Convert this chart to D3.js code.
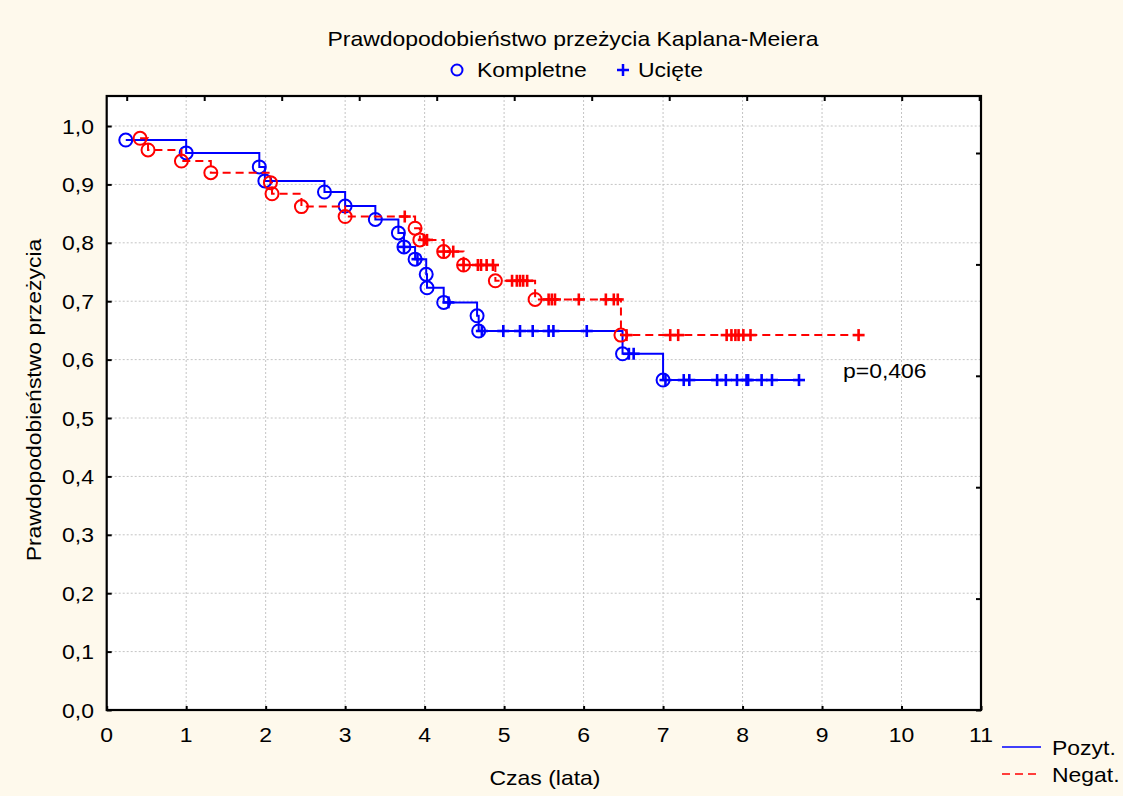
<!DOCTYPE html>
<html>
<head>
<meta charset="utf-8">
<script src="https://cdn.jsdelivr.net/npm/d3@7"></script>
<style>
  html, body { margin: 0; padding: 0; background: #fef9ec; }
  svg { display: block; font-family: "Liberation Sans", Arial, sans-serif; }
</style>
</head>
<body>
<div id="chart"></div>
<script>
// dane
var xTicks = [0, 1, 2, 3, 4, 5, 6, 7, 8, 9, 10, 11]
var yTicks = [0, 0.1, 0.2, 0.3, 0.4, 0.5, 0.6, 0.7, 0.8, 0.9, 1.0]
var yTickLabels = ["0,0", "0,1", "0,2", "0,3", "0,4", "0,5", "0,6", "0,7", "0,8", "0,9", "1,0"]

// Pozyt. - zdarzenia (czas, przezycie) i obserwacje uciete (czas)
var pozEventTimes = [0.24, 1.00, 1.92, 1.99, 2.74, 3.00, 3.38, 3.67, 3.74, 3.88, 4.02, 4.03, 4.24, 4.66, 4.68, 6.49, 7.00]
var pozEventSurv  = [0.976, 0.954, 0.930, 0.906, 0.887, 0.863, 0.840, 0.817, 0.793, 0.772, 0.746, 0.723, 0.698, 0.675, 0.649, 0.610, 0.565]
var pozCensored   = [3.74, 3.91, 4.30, 4.72, 4.99, 5.20, 5.36, 5.56, 5.62, 6.04, 6.57, 6.63,
                     7.03, 7.26, 7.33, 7.68, 7.79, 7.93, 8.05, 8.07, 8.24, 8.37, 8.71]

// Negat.
var negEventTimes = [0.42, 0.52, 0.94, 1.31, 2.06, 2.08, 2.45, 3.00, 3.88, 3.94, 4.24, 4.49, 4.89, 5.39, 6.47]
var negEventSurv  = [0.979, 0.959, 0.940, 0.920, 0.903, 0.884, 0.862, 0.845, 0.825, 0.805, 0.785, 0.762, 0.735, 0.703, 0.642]
var negCensored   = [3.75, 3.99, 4.03, 4.24, 4.36, 4.49, 4.67, 4.71, 4.78, 4.86, 5.10, 5.16, 5.20, 5.24, 5.29,
                     5.56, 5.60, 5.64, 5.94, 6.28, 6.38, 6.43, 6.54, 7.09, 7.19, 7.80, 7.86, 7.91, 7.95, 8.01, 8.10, 9.46]

var seriesNames = ["Pozyt.", "Negat."]
var seriesColors = ["#0000ff", "#ff0000"]

// wymiary
var W = 1123, H = 796
var margin = {left: 106.7, top: 96, right: 142, bottom: 86}
var width = W - margin.left - margin.right
var height = H - margin.top - margin.bottom

var x = d3.scaleLinear().domain([0, 11]).range([0, width])
var y = d3.scaleLinear().domain([0, 1.0514]).range([height, 0])

// dodatkowe podzialki na gorze i po prawej (jak w Statistice)
var xTop = d3.scaleLinear().domain([0, 11]).range([20, 872.5])
var yRight = d3.scaleLinear().domain([0, 5]).range([height, 57])

var svg = d3.select("#chart").append("svg")
    .attr("width", W)
    .attr("height", H)

svg.append("rect").attr("width", W).attr("height", H).attr("fill", "#fef9ec")

var fontSize = 20.5
var stretch = 1.12

// tekst troche rozciagniety w poziomie, tak jak w oryginale
function addText(parent, tx, ty, str, anchor, rot) {
    var g = parent.append("g")
        .attr("transform", "translate(" + tx + "," + ty + ")" + (rot ? " rotate(" + rot + ")" : "") + " scale(" + stretch + ",1)")
    g.append("text")
        .attr("text-anchor", anchor || "start")
        .style("font-size", fontSize + "px")
        .attr("fill", "#000")
        .text(str)
    return g
}

var plot = svg.append("g")
    .attr("transform", "translate(" + margin.left + "," + margin.top + ")")

plot.append("rect")
    .attr("width", width)
    .attr("height", height)
    .attr("fill", "#fff")

// siatka
plot.selectAll(".vgrid")
    .data(xTicks.slice(1, -1))
    .enter().append("line")
    .attr("class", "vgrid")
    .attr("x1", d => x(d)).attr("x2", d => x(d))
    .attr("y1", 0).attr("y2", height)
    .attr("stroke", "#c4c4c4")
    .attr("stroke-dasharray", "2,2")

plot.selectAll(".hgrid")
    .data(yTicks.slice(1))
    .enter().append("line")
    .attr("class", "hgrid")
    .attr("x1", 0).attr("x2", width)
    .attr("y1", d => y(d)).attr("y2", d => y(d))
    .attr("stroke", "#c4c4c4")
    .attr("stroke-dasharray", "2,2")

// osie
var xAxis = plot.append("g")
    .attr("transform", "translate(0," + height + ")")
    .call(d3.axisBottom(x).tickValues(xTicks).tickSizeInner(-4).tickSizeOuter(0).tickFormat(""))
var yAxis = plot.append("g")
    .call(d3.axisLeft(y).tickValues(yTicks).tickSizeInner(-5).tickSizeOuter(0).tickFormat(""))
var topAxis = plot.append("g")
    .call(d3.axisTop(xTop).tickValues(xTicks).tickSizeInner(-5).tickSizeOuter(0).tickFormat(""))
var rightAxis = plot.append("g")
    .attr("transform", "translate(" + width + ",0)")
    .call(d3.axisRight(yRight).ticks(5).tickSizeInner(-5).tickSizeOuter(0).tickFormat(""))

;[xAxis, yAxis, topAxis, rightAxis].forEach(function(a) {
    a.select(".domain").remove()
    a.selectAll(".tick line").attr("stroke", "#000").attr("stroke-width", 2)
})

plot.append("rect")
    .attr("width", width)
    .attr("height", height)
    .attr("fill", "none")
    .attr("stroke", "#000")
    .attr("stroke-width", 2.2)

// etykiety podzialek
xTicks.forEach(function(t) {
    addText(svg, margin.left + x(t), 742, String(t), "middle")
})
yTicks.forEach(function(t, i) {
    addText(svg, 94, margin.top + y(t) + 7.5, yTickLabels[i], "end")
})

// krzywe Kaplana-Meiera
var series = [
    {times: pozEventTimes, surv: pozEventSurv, cens: pozCensored, color: seriesColors[0], dash: null},
    {times: negEventTimes, surv: negEventSurv, cens: negCensored, color: seriesColors[1], dash: "8,5"}
]

function survAt(s, t) {
    var i = d3.bisectRight(s.times, t + 1e-9) - 1
    return i < 0 ? 1 : s.surv[i]
}

var stepLine = d3.line()
    .x(d => x(d[0]))
    .y(d => y(d[1]))
    .curve(d3.curveStepAfter)

series.forEach(function(s) {
    var pts = s.times.map((t, i) => [t, s.surv[i]])
    var lastT = d3.max(s.cens)
    pts.push([lastT, s.surv[s.surv.length - 1]])

    plot.append("path")
        .datum(pts)
        .attr("d", stepLine)
        .attr("fill", "none")
        .attr("stroke", s.color)
        .attr("stroke-width", 2)
        .attr("stroke-dasharray", s.dash)

    // kompletne - kolka
    plot.selectAll(null)
        .data(s.times)
        .enter().append("circle")
        .attr("cx", (d) => x(d))
        .attr("cy", (d, i) => y(s.surv[i]))
        .attr("r", 6.5)
        .attr("fill", "none")
        .attr("stroke", s.color)
        .attr("stroke-width", 2)

    // uciete - krzyzyki
    var c = plot.selectAll(null)
        .data(s.cens)
        .enter().append("g")
        .attr("transform", d => "translate(" + x(d) + "," + y(survAt(s, d)) + ")")
    c.append("line").attr("x1", -6).attr("x2", 6).attr("y1", 0).attr("y2", 0)
        .attr("stroke", s.color).attr("stroke-width", 2.6)
    c.append("line").attr("x1", 0).attr("x2", 0).attr("y1", -6).attr("y2", 6)
        .attr("stroke", s.color).attr("stroke-width", 2.6)
})

// tytul i legenda znacznikow
addText(svg, 573, 46, "Prawdopodobieństwo przeżycia Kaplana-Meiera", "middle")
svg.append("circle")
    .attr("cx", 457).attr("cy", 70).attr("r", 5.5)
    .attr("fill", "none").attr("stroke", "#0000ff").attr("stroke-width", 2)
addText(svg, 477, 77, "Kompletne", "start")
svg.append("line").attr("x1", 617).attr("x2", 629).attr("y1", 70).attr("y2", 70)
    .attr("stroke", "#0000ff").attr("stroke-width", 2.5)
svg.append("line").attr("x1", 623).attr("x2", 623).attr("y1", 64).attr("y2", 76)
    .attr("stroke", "#0000ff").attr("stroke-width", 2.5)
addText(svg, 638, 77, "Ucięte", "start")

// tytuly osi
addText(svg, 545, 785, "Czas (lata)", "middle")
addText(svg, 41, 400, "Prawdopodobieństwo przeżycia", "middle", -90)

// p-value
addText(svg, 843, 378, "p=0,406", "start")

// legenda serii
series.forEach(function(s, i) {
    var ly = 747 + i * 27
    svg.append("line")
        .attr("x1", 1002).attr("x2", 1041)
        .attr("y1", ly).attr("y2", ly)
        .attr("stroke", s.color)
        .attr("stroke-width", 1.5)
        .attr("stroke-dasharray", s.dash)
    addText(svg, 1052, ly + 8, seriesNames[i], "start")
})
</script>
</body>
</html>
